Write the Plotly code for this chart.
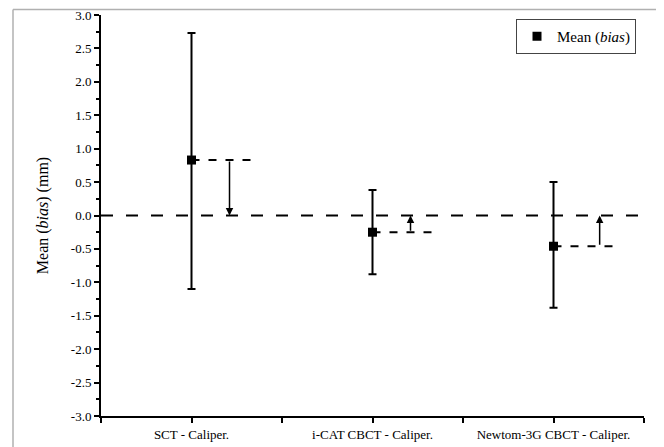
import plotly.graph_objects as go

categories = ["SCT - Caliper.", "i-CAT CBCT - Caliper.", "Newtom-3G CBCT - Caliper."]
means = [0.83, -0.25, -0.46]
upper = [2.73, 0.38, 0.50]
lower = [-1.10, -0.88, -1.38]
y_ticks = [-3.0, -2.5, -2.0, -1.5, -1.0, -0.5, 0.0, 0.5, 1.0, 1.5, 2.0, 2.5, 3.0]

# annotation geometry (offsets in category units)
arrow_off = [0.21, 0.21, 0.255]
dash_end = [0.34, 0.35, 0.36]

xs = list(range(len(categories)))
FONT = "Liberation Serif"

# page has an 8px body margin: figure is drawn from (8, 8)
OFF = 8
W, H = 664 - OFF, 447 - OFF
L, R, T, B = 101 - OFF, 664 - 644, 15 - OFF, 447 - 416
pw = W - L - R
ph = H - T - B

fig = go.Figure()
fig.add_trace(go.Scatter(
    x=xs, y=means, mode="markers", name="Mean (<i>bias</i>)",
    marker=dict(symbol="square", size=9, color="black"),
    error_y=dict(type="data", symmetric=False,
                 array=[u - m for u, m in zip(upper, means)],
                 arrayminus=[m - l for m, l in zip(means, lower)],
                 color="black", thickness=2, width=4),
))

shapes = []
shapes.append(dict(type="line", xref="paper", yref="y", x0=0, x1=1, y0=0, y1=0,
                   line=dict(color="black", width=2, dash="12px,13px"), layer="below"))
annotations = []
for i, m in enumerate(means):
    shapes.append(dict(type="line", xref="x", yref="y", x0=i, x1=i + dash_end[i], y0=m, y1=m,
                       line=dict(color="black", width=2, dash="8px,9px"), layer="below"))
    annotations.append(dict(x=i + arrow_off[i], y=0, ax=i + arrow_off[i], ay=m,
                            xref="x", yref="y", axref="x", ayref="y", text="",
                            showarrow=True, arrowhead=2, arrowsize=1, arrowwidth=1.5,
                            arrowcolor="black", standoff=0, startstandoff=0))

# outer gray frame (top and left)
fx = (13 - OFF - L) / pw
fy = 1 + (T - 1.5) / ph
shapes.append(dict(type="line", xref="paper", yref="paper", x0=fx, x1=1.2, y0=fy, y1=fy,
                   line=dict(color="#b0b0b0", width=1.5)))
shapes.append(dict(type="line", xref="paper", yref="paper", x0=fx, x1=fx, y0=fy, y1=-0.2,
                   line=dict(color="#b0b0b0", width=1.5)))

fig.update_layout(
    width=W, height=H,
    margin=dict(l=L, r=R, t=T, b=B, autoexpand=False),
    paper_bgcolor="white", plot_bgcolor="white",
    font=dict(family=FONT, color="black", size=13),
    showlegend=True,
    legend=dict(x=(636 - 101) / pw, y=1 - (19 - 15) / ph, xanchor="right", yanchor="top",
                bordercolor="#444", borderwidth=1, bgcolor="white",
                font=dict(family=FONT, size=15), itemwidth=30),
    shapes=shapes, annotations=annotations,
    xaxis=dict(range=[-0.5, 2.5], tickvals=xs, ticktext=categories, automargin=False,
               showgrid=False, zeroline=False, showline=True, linecolor="black", linewidth=2,
               ticks="outside", ticklen=5, tickwidth=1.5, tickcolor="black",
               tickfont=dict(family=FONT, size=13),
               minor=dict(tick0=-0.5, dtick=1, ticks="outside", ticklen=5, tickwidth=1.5,
                          tickcolor="black", showgrid=False)),
    yaxis=dict(range=[-3, 3], tickvals=y_ticks, ticktext=[f"{v:.1f}" for v in y_ticks],
               automargin=False, ticklabeloverflow="allow",
               showgrid=False, zeroline=False, showline=True, linecolor="black", linewidth=2,
               ticks="outside", ticklen=5, tickwidth=1.5, tickcolor="black",
               tickfont=dict(family=FONT, size=13),
               title=dict(text="Mean (<i>bias</i>) (mm)", font=dict(family=FONT, size=16), standoff=18),
               minor=dict(tick0=-3, dtick=0.25, ticks="outside", ticklen=3, tickwidth=1.5,
                          tickcolor="black", showgrid=False)),
)

fig.write_html("out.html")
